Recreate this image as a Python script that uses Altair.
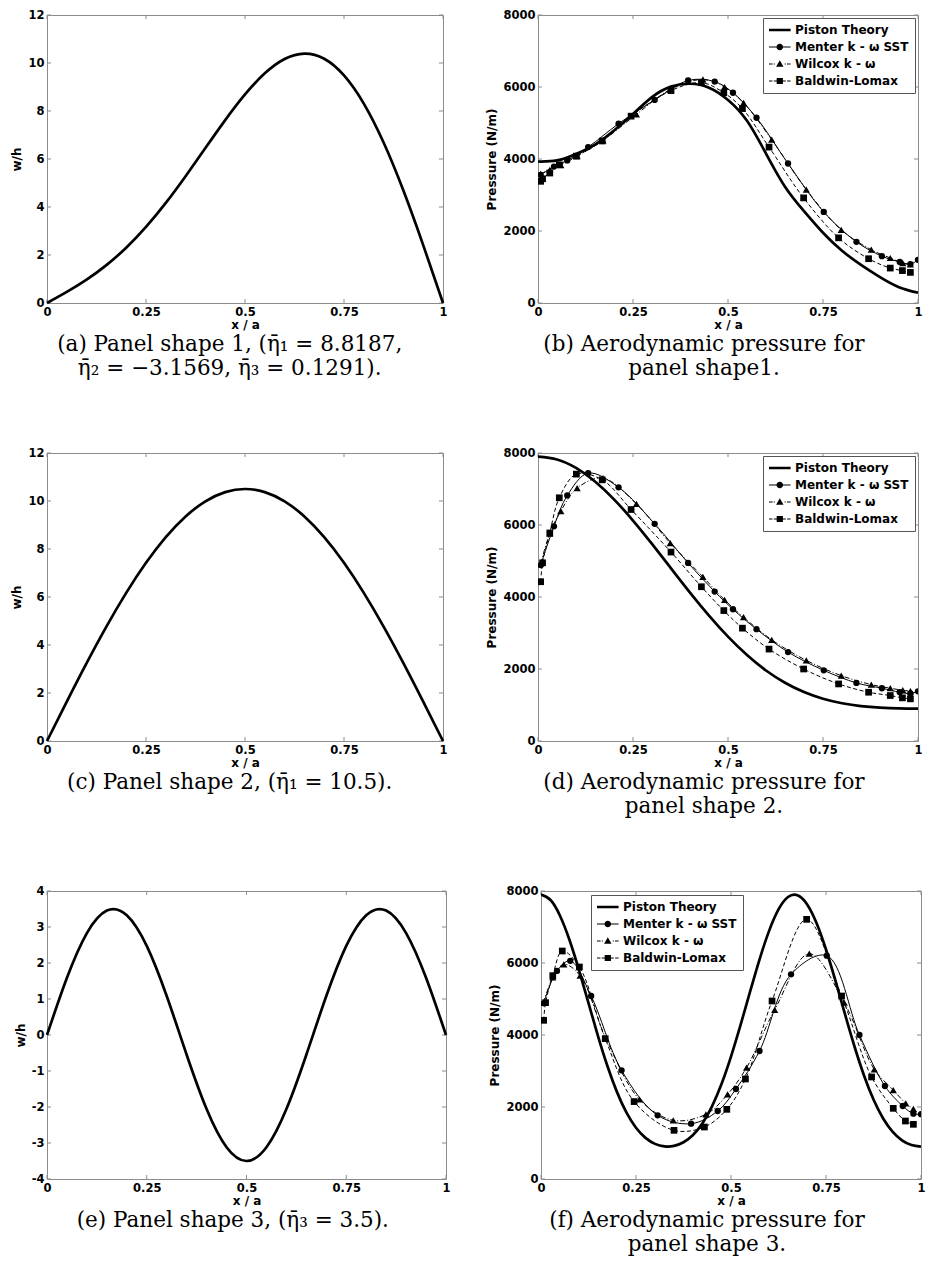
import altair as alt
import pandas as pd

# ---------------- data ----------------
X21 = [0.0, 0.05, 0.1, 0.15, 0.2, 0.25, 0.3, 0.35, 0.4, 0.45, 0.5,
       0.55, 0.6, 0.65, 0.7, 0.75, 0.8, 0.85, 0.9, 0.95, 1.0]
X41 = [0.0, 0.025, 0.05, 0.075, 0.1, 0.125, 0.15, 0.175, 0.2, 0.225, 0.25,
       0.275, 0.3, 0.325, 0.35, 0.375, 0.4, 0.425, 0.45, 0.475, 0.5,
       0.525, 0.55, 0.575, 0.6, 0.625, 0.65, 0.675, 0.7, 0.725, 0.75,
       0.775, 0.8, 0.825, 0.85, 0.875, 0.9, 0.925, 0.95, 0.975, 1.0]

# panel shapes w/h
SHAPE1 = [0, 0.463, 0.973, 1.578, 2.304, 3.170, 4.171, 5.284, 6.456, 7.620, 8.690,
          9.570, 10.168, 10.392, 10.177, 9.484, 8.310, 6.686, 4.685, 2.413, 0]
SHAPE2 = [0, 1.642, 3.245, 4.767, 6.172, 7.425, 8.495, 9.356, 9.986, 10.371, 10.5,
          10.371, 9.986, 9.356, 8.495, 7.425, 6.172, 4.767, 3.245, 1.642, 0]
SHAPE3 = [0, 1.589, 2.832, 3.457, 3.329, 2.475, 1.082, -0.547, -2.057, -3.119, -3.5,
          -3.119, -2.057, -0.547, 1.082, 2.475, 3.329, 3.457, 2.832, 1.589, 0]

# piston theory pressure
PISTON_B = [3930, 3960, 4140, 4400, 4790, 5250, 5720, 6010, 6090, 5980, 5640,
            5060, 4150, 3230, 2550, 1950, 1450, 1060, 720, 440, 285]
PISTON_D = [7900, 7820, 7586, 7209, 6713, 6124, 5474, 4797, 4123, 3482, 2898,
            2388, 1959, 1619, 1360, 1174, 1049, 971, 928, 906, 900]
PISTON_F = [7900, 7749, 7313, 6639, 5803, 4885, 3971, 3131, 2413, 1844, 1425,
            1143, 976, 905, 919, 1020, 1222, 1549, 2017, 2637, 3400,
            4271, 5195, 6095, 6886, 7488, 7833, 7883, 7634, 7111, 6375,
            5502, 4577, 3681, 2877, 2207, 1689, 1317, 1075, 943, 900]

# CFD results (x positions of the markers, then pressure per panel)
MENTER_X = [0.007, 0.042, 0.077, 0.132, 0.212, 0.307, 0.395, 0.465, 0.513,
            0.575, 0.658, 0.752, 0.838, 0.905, 0.952, 0.98, 1.0]
B_MENTER = [3560, 3790, 3960, 4330, 4980, 5640, 6180, 6150, 5840,
            5145, 3875, 2530, 1700, 1300, 1140, 1080, 1200]
D_MENTER = [4885, 5963, 6821, 7440, 7046, 6032, 4947, 4150, 3660,
            3106, 2470, 1963, 1613, 1466, 1355, 1320, 1380]
F_MENTER = [4880, 5780, 6060, 5083, 3019, 1768, 1537, 1889, 2500,
            3556, 5685, 6204, 4000, 2583, 2027, 1815, 1800]

WILCOX_X = [0.007, 0.031, 0.06, 0.103, 0.171, 0.259, 0.348, 0.434, 0.491,
            0.541, 0.615, 0.706, 0.798, 0.877, 0.927, 0.96, 0.98]
B_WILCOX = [3590, 3700, 3830, 4080, 4515, 5240, 5930, 6210, 6000,
            5560, 4540, 3150, 2030, 1480, 1250, 1110, 1070]
D_WILCOX = [4931, 5761, 6387, 7027, 7300, 6585, 5498, 4560, 3920,
            3438, 2811, 2240, 1816, 1567, 1466, 1410, 1383]
F_WILCOX = [4900, 5600, 5963, 5650, 3900, 2213, 1630, 1797, 2350,
            3093, 4700, 6259, 4898, 3047, 2472, 2100, 1950]

BALDWIN_X = [0.007, 0.012, 0.031, 0.056, 0.101, 0.169, 0.245, 0.35, 0.43,
             0.489, 0.538, 0.608, 0.699, 0.791, 0.87, 0.927, 0.959, 0.98]
B_BALDWIN = [3380, 3450, 3610, 3840, 4080, 4500, 5190, 5900, 6120,
             5840, 5400, 4330, 2920, 1810, 1230, 970, 900, 850]
D_BALDWIN = [4424, 4950, 5779, 6756, 7413, 7255, 6430, 5248, 4285,
             3623, 3134, 2553, 2000, 1585, 1355, 1263, 1198, 1171]
F_BALDWIN = [4408, 4898, 5648, 6333, 5889, 3898, 2150, 1352, 1444,
             1935, 2778, 4945, 7213, 5083, 2834, 1963, 1611, 1519]

SERIES = ["Piston Theory", "Menter k - \u03c9 SST", "Wilcox k - \u03c9", "Baldwin-Lomax"]

X_TICKS = [0, 0.25, 0.5, 0.75, 1]
Y_TICKS_W12 = [0, 2, 4, 6, 8, 10, 12]
Y_TICKS_W4 = [-4, -3, -2, -1, 0, 1, 2, 3, 4]
Y_TICKS_P = [0, 2000, 4000, 6000, 8000]

CAPTIONS = {
    "a": ["(a) Panel shape 1, (\u03b7\u0304\u2081 = 8.8187,",
          "\u03b7\u0304\u2082 = \u22123.1569, \u03b7\u0304\u2083 = 0.1291)."],
    "b": ["(b) Aerodynamic pressure for", "panel shape1."],
    "c": ["(c) Panel shape 2, (\u03b7\u0304\u2081 = 10.5)."],
    "d": ["(d) Aerodynamic pressure for", "panel shape 2."],
    "e": ["(e) Panel shape 3, (\u03b7\u0304\u2083 = 3.5)."],
    "f": ["(f) Aerodynamic pressure for", "panel shape 3."],
}

# ---------------- styling ----------------
FRAME = "#8c8c8c"
TICK_FONT = "DejaVu Sans"
CAPTION_FONT = "DejaVu Serif"
H = 288
W_LEFT = 396
W_RIGHT = 380
TICK_LEN = 4

# legend symbols: line sample + marker, drawn as filled shapes (unit coordinates)
LEGEND_PATHS = [
    "M-1,-0.21H2.6V0.21H-1Z",
    "M-1,-0.09H0.3V0.09H-1Z M1.3,-0.09H2.6V0.09H1.3Z "
    "M0.25,0A0.55,0.55 0 1,1 1.35,0A0.55,0.55 0 1,1 0.25,0Z",
    "M-1,-0.09H-0.4V0.09H-1Z M-0.2,-0.09H-0.02V0.09H-0.2Z "
    "M1.62,-0.09H1.8V0.09H1.62Z M2.0,-0.09H2.6V0.09H2.0Z "
    "M0.8,-0.62L1.42,0.45H0.18Z",
    "M-1,-0.09H-0.42V0.09H-1Z M-0.2,-0.09H0.28V0.09H-0.2Z "
    "M1.32,-0.09H1.8V0.09H1.32Z M2.02,-0.09H2.6V0.09H2.02Z "
    "M0.28,-0.52H1.32V0.52H0.28Z",
]


def x_enc():
    return alt.X("x:Q", scale=alt.Scale(domain=[0, 1], nice=False, zero=False),
                 axis=alt.Axis(title="x / a", values=X_TICKS, labelExpr="'' + datum.value",
                               labelFlush=False, labelPadding=3, titlePadding=2))


def y_enc(domain, ticks, title):
    return alt.Y("y:Q", scale=alt.Scale(domain=domain, nice=False, zero=False),
                 axis=alt.Axis(title=title, values=ticks, labelExpr="'' + datum.value",
                               labelPadding=3, titlePadding=4, labelFlush=False))


def tick_layers(width, domain, ticks, title):
    xdf = pd.DataFrame({"x": X_TICKS})
    ydf = pd.DataFrame({"y": ticks})
    st = dict(color=FRAME, strokeWidth=1)
    return [
        alt.Chart(xdf).mark_rule(**st).encode(x=x_enc(), y=alt.value(H), y2=alt.value(H - TICK_LEN)),
        alt.Chart(xdf).mark_rule(**st).encode(x=x_enc(), y=alt.value(0), y2=alt.value(TICK_LEN)),
        alt.Chart(ydf).mark_rule(**st).encode(y=y_enc(domain, ticks, title), x=alt.value(0), x2=alt.value(TICK_LEN)),
        alt.Chart(ydf).mark_rule(**st).encode(y=y_enc(domain, ticks, title), x=alt.value(width), x2=alt.value(width - TICK_LEN)),
    ]


def caption(key):
    return alt.TitleParams(text=CAPTIONS[key], orient="bottom", anchor="middle", frame="bounds",
                           font=CAPTION_FONT, fontSize=21.5, fontWeight="normal",
                           lineHeight=24, offset=3, color="black")


def shape_panel(key, xs, ws, domain, ticks, width):
    df = pd.DataFrame({"x": xs, "y": ws})
    line = alt.Chart(df).mark_line(color="black", strokeWidth=2.7, interpolate="natural").encode(
        x=x_enc(), y=y_enc(domain, ticks, "w/h"))
    return alt.layer(*tick_layers(width, domain, ticks, "w/h"), line).properties(
        width=width, height=H, title=caption(key))


def pressure_panel(key, piston_x, piston, menter, wilcox, baldwin, legend_kw, hide_at):
    domain = [0, 8000]
    title = "Pressure (N/m)"
    xe, ye = x_enc(), y_enc(domain, Y_TICKS_P, title)
    pdf = pd.DataFrame({"x": piston_x, "y": piston})
    mdf = pd.DataFrame({"x": MENTER_X, "y": menter})
    wdf = pd.DataFrame({"x": WILCOX_X, "y": wilcox})
    bdf = pd.DataFrame({"x": BALDWIN_X, "y": baldwin})
    layers = tick_layers(W_RIGHT, domain, Y_TICKS_P, title)
    layers += [
        alt.Chart(bdf).mark_line(color="black", strokeWidth=1, strokeDash=[4, 2.5],
                                 interpolate="catmull-rom", clip=True).encode(x=xe, y=ye),
        alt.Chart(wdf).mark_line(color="black", strokeWidth=1, strokeDash=[5, 2, 1, 2],
                                 interpolate="catmull-rom", clip=True).encode(x=xe, y=ye),
        alt.Chart(mdf).mark_line(color="black", strokeWidth=1,
                                 interpolate="catmull-rom", clip=True).encode(x=xe, y=ye),
        alt.Chart(pdf).mark_line(color="black", strokeWidth=2.7,
                                 interpolate="natural", clip=True).encode(x=xe, y=ye),
        alt.Chart(bdf).mark_point(shape="square", filled=True, color="black", size=45, opacity=1,
                                  clip=True).encode(x=xe, y=ye),
        alt.Chart(wdf).mark_point(shape="triangle-up", filled=True, color="black", size=52, opacity=1,
                                  clip=True).encode(x=xe, y=ye),
        alt.Chart(mdf).mark_point(shape="circle", filled=True, color="black", size=40, opacity=1,
                                  clip=True).encode(x=xe, y=ye),
    ]
    leg = alt.Legend(title=None, fillColor="white", strokeColor="#555555", padding=6,
                     symbolSize=144, labelOffset=14, labelFont=TICK_FONT, labelFontSize=12,
                     labelFontWeight="bold", labelColor="black", rowPadding=5,
                     symbolStrokeWidth=0, symbolFillColor="black", symbolStrokeColor="black",
                     symbolOpacity=1, cornerRadius=0, **legend_kw)
    ldf = pd.DataFrame({"series": SERIES})
    # the legend's own marks sit under the (opaque) legend box
    legend_layer = alt.Chart(ldf).mark_point(filled=True, color="black", size=20).encode(
        x=alt.value(hide_at[0]), y=alt.value(hide_at[1]),
        shape=alt.Shape("series:N", scale=alt.Scale(domain=SERIES, range=LEGEND_PATHS), legend=leg),
    )
    layers.append(legend_layer)
    return alt.layer(*layers).properties(width=W_RIGHT, height=H, title=caption(key))


pa = shape_panel("a", X21, SHAPE1, [0, 12], Y_TICKS_W12, W_LEFT)
pc = shape_panel("c", X21, SHAPE2, [0, 12], Y_TICKS_W12, W_LEFT)
pe = shape_panel("e", X21, SHAPE3, [-4, 4], Y_TICKS_W4, W_LEFT + 3)

pb = pressure_panel("b", X21, PISTON_B, B_MENTER, B_WILCOX, B_BALDWIN,
                    dict(orient="top-right", offset=3), (W_RIGHT - 75, 40))
pd_ = pressure_panel("d", X21, PISTON_D, D_MENTER, D_WILCOX, D_BALDWIN,
                     dict(orient="top-right", offset=3), (W_RIGHT - 75, 40))
pf = pressure_panel("f", X41, PISTON_F, F_MENTER, F_WILCOX, F_BALDWIN,
                    dict(orient="none", legendX=50, legendY=4), (125, 42))


def row(left, right):
    return alt.hconcat(left, right, spacing=36).resolve_scale(
        shape="independent"
    ).resolve_legend(shape="independent")


chart = alt.vconcat(
    row(pa, pb), row(pc, pd_), row(pe, pf), spacing=66,
).resolve_scale(
    shape="independent"
).resolve_legend(
    shape="independent"
).properties(
    padding={"left": 10, "top": 8, "right": 0, "bottom": 0},
    background="white",
).configure_view(
    stroke=FRAME, strokeWidth=1
).configure_axis(
    grid=False, domain=False, ticks=False,
    labelFont=TICK_FONT, labelFontSize=11.5, labelFontWeight="bold", labelColor="black",
    titleFont=TICK_FONT, titleFontSize=12, titleFontWeight="bold", titleColor="black",
)

chart.save("out.html", embed_options={"renderer": "svg", "actions": False})
